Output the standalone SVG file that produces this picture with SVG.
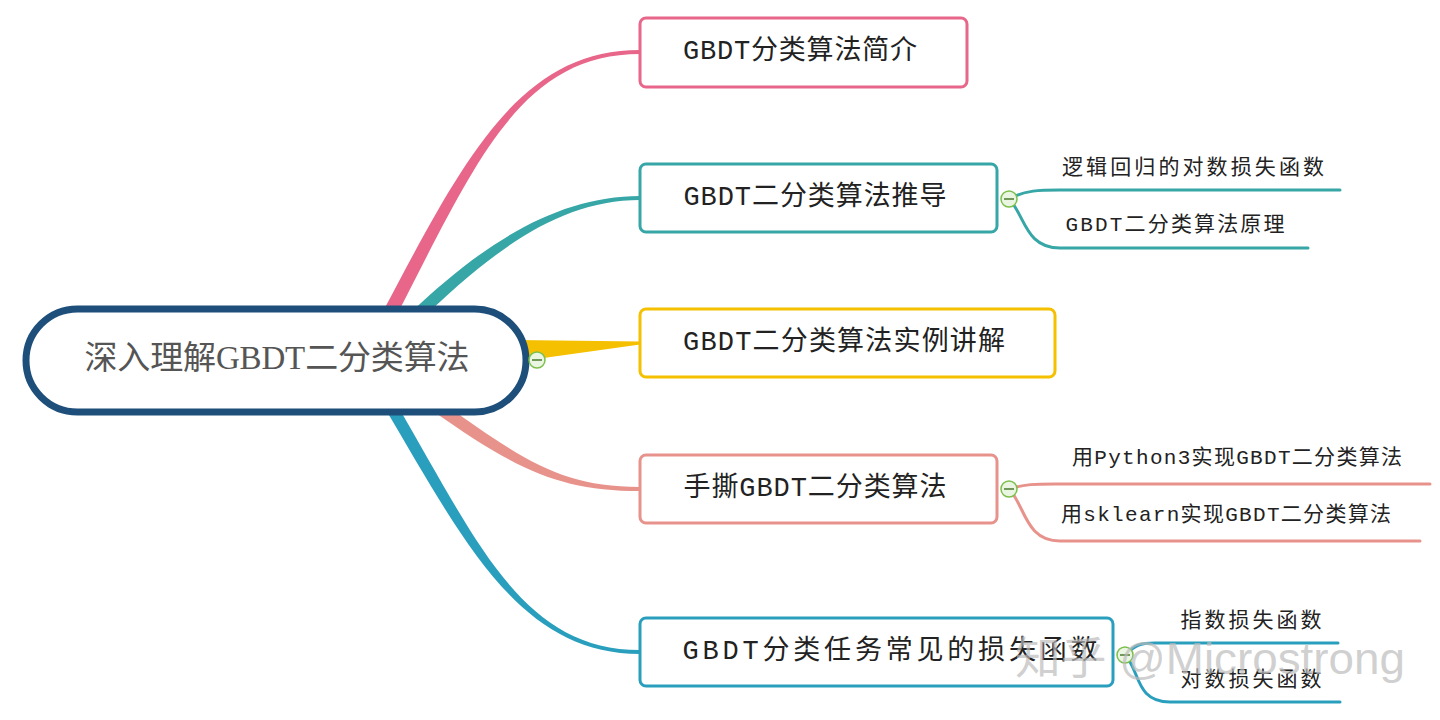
<svg xmlns="http://www.w3.org/2000/svg" width="1440" height="720" viewBox="0 0 1440 720">
<style>
.box{fill:#fff;stroke-width:3}
.t{font-family:"Liberation Mono","Noto Sans CJK SC",monospace;font-size:27px;fill:#222;text-anchor:middle;dominant-baseline:central}
.s{font-family:"Liberation Mono","Noto Sans CJK SC",monospace;font-size:21px;fill:#222;text-anchor:middle;dominant-baseline:central}
.btn circle{fill:#eaf6e2;stroke:#7cbf4c;stroke-width:1.5}
.btn line{stroke:#4a7a2a;stroke-width:1.5}
.sub{fill:none;stroke-width:3;stroke-linecap:round}
</style>
<rect width="1440" height="720" fill="#fff"/>
<g id="connectors">
<path d="M383.7,310.1 C464.7,157.1 520,50 640,50 L640,54 C520,54 475.3,162.9 396.3,315.9 Z" fill="#e8668a"/>
<path d="M410.9,312.6 C485.9,240.6 560,196 640,196 L640,200 C560,200 494.1,249.4 419.1,321.4 Z" fill="#36a6a6"/>
<path d="M515,340 L640,341.5 L640,344.5 L515,362 Z" fill="#f5c000"/>
<path d="M438.5,400.1 C523.5,460.1 560,487 640,487 L640,491 C560,491 516.5,469.9 431.5,409.9 Z" fill="#e8928c"/>
<path d="M395.2,401.9 C475.2,536.9 520,650 640,650 L640,654 C520,654 464.8,543.1 384.8,408.1 Z" fill="#2a9fbd"/>
<path class="sub" stroke="#36a6a6" d="M1009,199 C1025,190 1040,190 1060,190 L1340,190"/>
<path class="sub" stroke="#36a6a6" d="M1009,199 C1025,215 1025,248 1060,248 L1308,248"/>
<path class="sub" stroke="#e8928c" d="M1009,489 C1025,484 1035,484 1055,484 L1430,484"/>
<path class="sub" stroke="#e8928c" d="M1009,489 C1025,505 1025,541 1060,541 L1420,541"/>
<path class="sub" stroke="#2a9fbd" d="M1125,655 C1135,645 1140,643 1155,643 L1338,643"/>
<path class="sub" stroke="#2a9fbd" d="M1125,655 C1140,670 1135,702 1170,702 L1340,702"/>
</g>
<g id="root">
<rect x="26" y="309" width="500" height="103" rx="51.5" fill="#fff" stroke="#1e4f7a" stroke-width="7"/>
<text x="277" y="358" font-family="'Liberation Serif','Noto Sans CJK SC',serif" font-size="33" fill="#555" text-anchor="middle" dominant-baseline="central" textLength="385" lengthAdjust="spacing">深入理解GBDT二分类算法</text>
<g class="btn"><circle cx="537" cy="360" r="8"/><line x1="532" y1="360" x2="542" y2="360"/></g>
</g>
<g id="n1">
<rect class="box" x="640" y="18" width="327" height="69" rx="6" stroke="#e8668a"/>
<text class="t" x="800" y="52" textLength="234" lengthAdjust="spacing">GBDT分类算法简介</text>
</g>
<g id="n2">
<rect class="box" x="640" y="164" width="357" height="68" rx="6" stroke="#36a6a6"/>
<text class="t" x="815" y="198" textLength="263" lengthAdjust="spacing">GBDT二分类算法推导</text>
<g class="btn"><circle cx="1009" cy="199" r="8"/><line x1="1004" y1="199" x2="1014" y2="199"/></g>
</g>
<g id="n2a"><text class="s" x="1193" y="168" textLength="262" lengthAdjust="spacing">逻辑回归的对数损失函数</text></g>
<g id="n2b"><text class="s" x="1175" y="225" textLength="219" lengthAdjust="spacing">GBDT二分类算法原理</text></g>
<g id="n3">
<rect class="box" x="640" y="309" width="415" height="68" rx="6" stroke="#f5c000"/>
<text class="t" x="844" y="343" textLength="322" lengthAdjust="spacing">GBDT二分类算法实例讲解</text>
</g>
<g id="n4">
<rect class="box" x="640" y="455" width="357" height="68" rx="6" stroke="#e8928c"/>
<text class="t" x="815" y="489" textLength="263" lengthAdjust="spacing">手撕GBDT二分类算法</text>
<g class="btn"><circle cx="1009" cy="489" r="8"/><line x1="1004" y1="489" x2="1014" y2="489"/></g>
</g>
<g id="n4a"><text class="s" x="1237" y="458" textLength="330" lengthAdjust="spacing">用Python3实现GBDT二分类算法</text></g>
<g id="n4b"><text class="s" x="1226" y="515" textLength="330" lengthAdjust="spacing">用sklearn实现GBDT二分类算法</text></g>
<g id="n5">
<rect class="box" x="640" y="618" width="473" height="68" rx="6" stroke="#2a9fbd"/>
<text class="t" x="890" y="652" textLength="415" lengthAdjust="spacing">GBDT分类任务常见的损失函数</text>
<g class="btn"><circle cx="1125" cy="655" r="8"/><line x1="1120" y1="655" x2="1130" y2="655"/></g>
</g>
<g id="n5a"><text class="s" x="1251" y="621" textLength="141" lengthAdjust="spacing">指数损失函数</text></g>
<g id="n5b"><text class="s" x="1251" y="680" textLength="141" lengthAdjust="spacing">对数损失函数</text></g>
<text x="1015" y="658" font-family="'Liberation Sans','Noto Sans CJK SC',sans-serif" font-size="44" fill="#bbb" fill-opacity="0.7" dominant-baseline="central" textLength="390" lengthAdjust="spacingAndGlyphs">知乎 @Microstrong</text>
</svg>
